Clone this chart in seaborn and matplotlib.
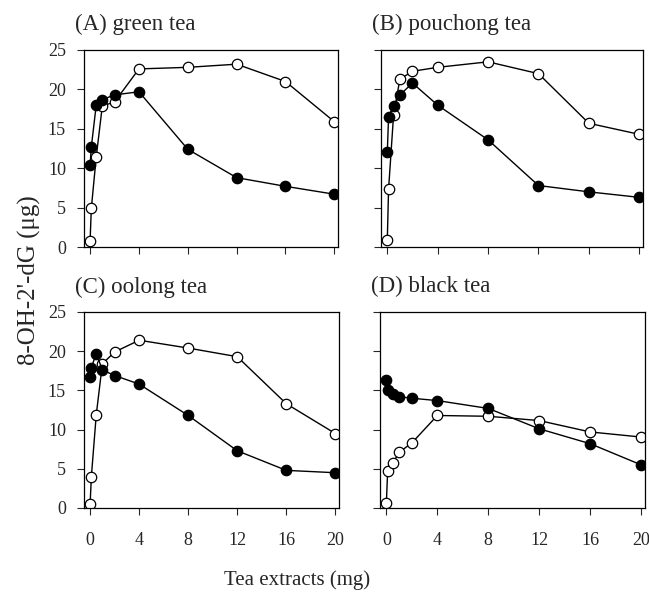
import matplotlib
matplotlib.use("Agg")
import matplotlib.pyplot as plt
import seaborn as sns
import pandas as pd

# tea extract doses (mg)
dose = [0, 0.1, 0.5, 1, 2, 4, 8, 12, 16, 20]

panel_titles = ["(A) green tea", "(B) pouchong tea", "(C) oolong tea", "(D) black tea"]

# filled circles
green_filled = [10.4, 12.7, 18.0, 18.7, 19.3, 19.7, 12.4, 8.8, 7.7, 6.7]
pouchong_filled = [12.0, 16.5, 17.9, 19.3, 20.8, 18.0, 13.6, 7.8, 7.0, 6.3]
oolong_filled = [16.7, 17.9, 19.7, 17.6, 16.9, 15.8, 11.8, 7.3, 4.8, 4.5]
black_filled = [16.3, 15.0, 14.5, 14.2, 14.0, 13.7, 12.7, 10.1, 8.2, 5.5]

# open circles
green_open = [0.8, 4.9, 11.4, 17.9, 18.4, 22.6, 22.8, 23.2, 21.0, 15.9]
pouchong_open = [0.85, 7.3, 16.8, 21.3, 22.3, 22.8, 23.5, 22.0, 15.7, 14.3]
oolong_open = [0.55, 4.0, 11.9, 18.4, 19.9, 21.4, 20.4, 19.3, 13.3, 9.5]
black_open = [0.65, 4.7, 5.7, 7.1, 8.3, 11.8, 11.7, 11.15, 9.7, 9.05]

filled_series = [green_filled, pouchong_filled, oolong_filled, black_filled]
open_series = [green_open, pouchong_open, oolong_open, black_open]

sns.set_style("white")
plt.rcParams['font.family'] = ['Liberation Serif', 'DejaVu Serif']

fig = plt.figure(figsize=(6.49, 5.93), dpi=100)
W, H = 649, 593
# axes boxes in pixels: left, right, top, bottom
boxes = [(84, 338, 50, 247), (381, 643, 50, 247),
         (84, 339, 312, 508), (380, 645, 312, 508)]

for i, (l, r, t, b) in enumerate(boxes):
    ax = fig.add_axes([l / W, 1 - b / H, (r - l) / W, (b - t) / H])
    df_o = pd.DataFrame({'dose': dose, 'val': open_series[i]})
    df_f = pd.DataFrame({'dose': dose, 'val': filled_series[i]})
    sns.lineplot(data=df_o, x='dose', y='val', ax=ax, color='black', lw=1,
                 marker='o', markersize=7.5, markerfacecolor='white',
                 markeredgecolor='black', markeredgewidth=0.9)
    sns.lineplot(data=df_f, x='dose', y='val', ax=ax, color='black', lw=1,
                 marker='o', markersize=7.5, markerfacecolor='black',
                 markeredgecolor='black', markeredgewidth=0.9)
    ax.set_xlim(-0.5, 20.3)
    ax.set_ylim(0, 25)
    ax.set_xticks([0, 4, 8, 12, 16, 20])
    ax.set_yticks([0, 5, 10, 15, 20, 25])
    ax.set_xlabel("")
    ax.set_ylabel("")
    ax.tick_params(direction='out', length=5, width=0.8, labelsize=13,
                   bottom=True, left=True)
    ax.tick_params(axis='y', pad=8)
    ax.tick_params(axis='x', pad=12)
    if i < 2:
        ax.set_xticklabels([])
    if i % 2 == 1:
        ax.set_yticklabels([])
    for s in ax.spines.values():
        s.set_color('black')
        s.set_linewidth(0.9)
    ax.text(-0.035, 1.128, panel_titles[i], transform=ax.transAxes,
            fontsize=16.5, ha='left', va='center')

fig.text(0.458, 0.022, "Tea extracts (mg)", fontsize=15, ha='center', va='center')
fig.text(0.045, 0.528, "8-OH-2'-dG (μg)", fontsize=18, ha='center', va='center',
         rotation=90)

fig.savefig("out.png", dpi=100)
